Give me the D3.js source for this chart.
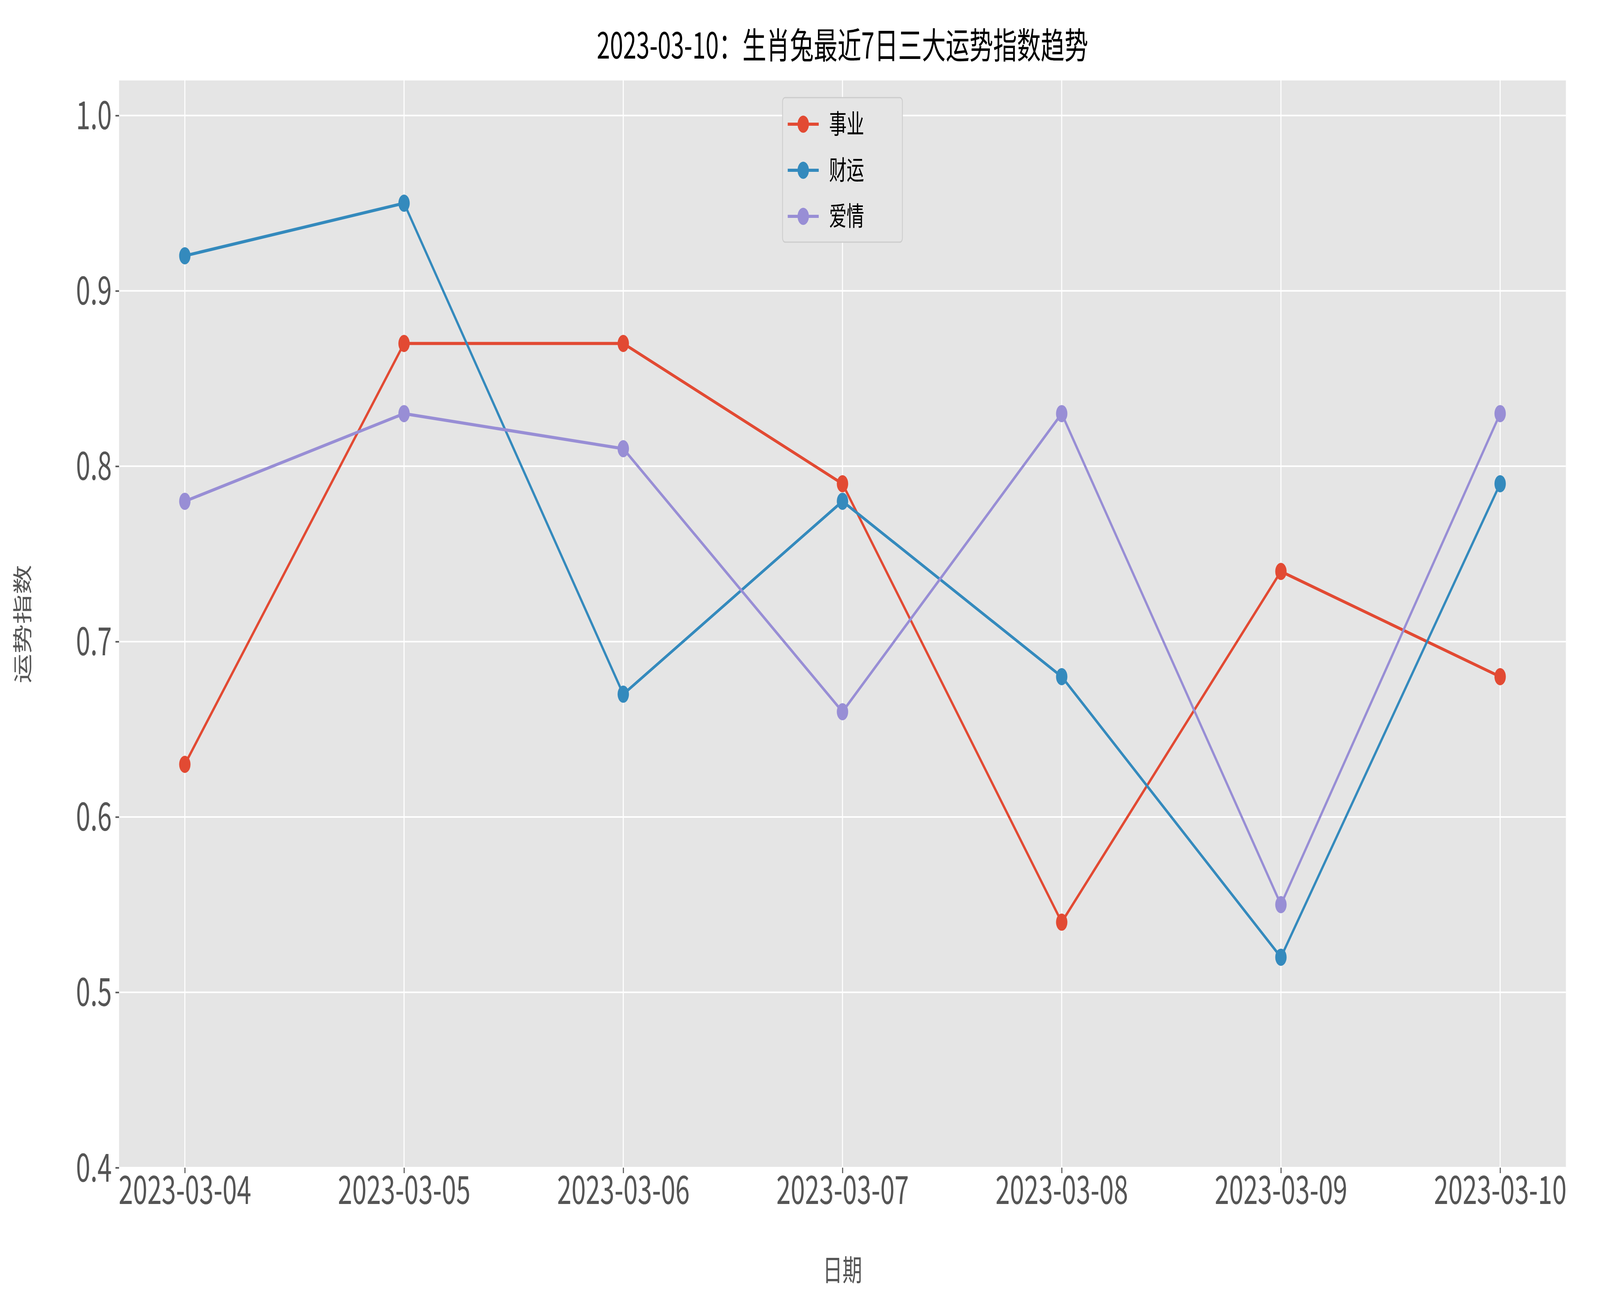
<!DOCTYPE html>
<html><head><meta charset="utf-8">
<script src="https://cdn.jsdelivr.net/npm/d3@7"></script>
<style>html,body{margin:0;background:#fff;overflow:hidden}svg{display:block}text{font-family:"Noto Sans CJK SC",sans-serif}</style>
</head><body>
<script>
var dates = ["2023-03-04","2023-03-05","2023-03-06","2023-03-07","2023-03-08","2023-03-09","2023-03-10"]
var career = [0.63,0.87,0.87,0.79,0.54,0.74,0.68]
var wealth = [0.92,0.95,0.67,0.78,0.68,0.52,0.79]
var love = [0.78,0.83,0.81,0.66,0.83,0.55,0.83]
var yTicks = [0.4,0.5,0.6,0.7,0.8,0.9,1.0]
var series = [
  {name:"事业", values:career, color:"#E24A33"},
  {name:"财运", values:wealth, color:"#348ABD"},
  {name:"爱情", values:love, color:"#988ED5"}
]

var W = 6195, H = 3334
var m = {left:461, right:6063, top:206, bottom:2990}
// scale to the window whatever its real pixel size is
var svg = d3.select("body").append("svg")
  .attr("width","100vw").attr("height","100vh")
  .attr("viewBox","0 0 "+W+" "+H).attr("preserveAspectRatio","none")

var x = d3.scaleLinear().domain([-0.3,6.3]).range([m.left,m.right])
var y = d3.scaleLinear().domain([0.4,1.02]).range([m.bottom,m.top])

svg.append("rect").attr("x",m.left).attr("y",m.top)
  .attr("width",m.right-m.left).attr("height",m.bottom-m.top).attr("fill","#E5E5E5")

// grid
svg.append("g").selectAll("line").data(dates).join("line")
  .attr("x1",(d,i)=>x(i)).attr("x2",(d,i)=>x(i)).attr("y1",m.top).attr("y2",m.bottom)
  .attr("stroke","#fff").attr("stroke-width",4)
svg.append("g").selectAll("line").data(yTicks).join("line")
  .attr("x1",m.left).attr("x2",m.right).attr("y1",d=>y(d)).attr("y2",d=>y(d))
  .attr("stroke","#fff").attr("stroke-width",4)

// axes
var xAxis = d3.axisBottom(x).tickValues(d3.range(dates.length)).tickFormat(i=>dates[i])
  .tickSize(14).tickPadding(8)
var gx = svg.append("g").attr("transform","translate(0,"+m.bottom+")").call(xAxis)
gx.select(".domain").remove()
gx.selectAll("line").attr("stroke","#555").attr("stroke-width",4)
gx.selectAll("text").attr("fill","#555").attr("font-size",100)

var yAxis = d3.axisLeft(y).tickValues(yTicks).tickFormat(d3.format(".1f")).tickSize(14).tickPadding(14)
var gy = svg.append("g").attr("transform","translate("+m.left+",0)").call(yAxis)
gy.select(".domain").remove()
gy.selectAll("line").attr("stroke","#555").attr("stroke-width",4)
gy.selectAll("text").attr("fill","#555").attr("font-size",100).attr("dy","0.35em")

// lines
var line = d3.line().x((d,i)=>x(i)).y(d=>y(d))
series.forEach(function(s){
  svg.append("path").datum(s.values).attr("d",line).attr("fill","none")
    .attr("stroke",s.color).attr("stroke-width",8)
  svg.append("g").selectAll("circle").data(s.values).join("circle")
    .attr("cx",(d,i)=>x(i)).attr("cy",d=>y(d)).attr("r",22).attr("fill",s.color)
})

// title & labels
svg.append("text").attr("x",(m.left+m.right)/2).attr("y",150).attr("text-anchor","middle")
  .attr("font-size",92).attr("fill","#000").text("2023-03-10：生肖兔最近7日三大运势指数趋势")
svg.append("text").attr("x",(m.left+m.right)/2).attr("y",3280).attr("text-anchor","middle")
  .attr("font-size",76).attr("fill","#555").text("日期")
svg.append("text").attr("transform","translate(115,"+(m.top+m.bottom)/2+") rotate(-90)")
  .attr("text-anchor","middle").attr("font-size",76).attr("fill","#555").text("运势指数")

// legend
var lg = svg.append("g").attr("transform","translate(3030,250)")
lg.append("rect").attr("width",464).attr("height",370).attr("rx",10)
  .attr("fill","#E5E5E5").attr("stroke","#ccc").attr("stroke-width",3)
series.forEach(function(s,i){
  var cy = 68 + i*118
  lg.append("line").attr("x1",20).attr("x2",140).attr("y1",cy).attr("y2",cy)
    .attr("stroke",s.color).attr("stroke-width",8)
  lg.append("circle").attr("cx",80).attr("cy",cy).attr("r",22).attr("fill",s.color)
  lg.append("text").attr("x",180).attr("y",cy).attr("dy","0.35em")
    .attr("font-size",68).attr("fill","#000").text(s.name)
})
</script>
</body></html>
